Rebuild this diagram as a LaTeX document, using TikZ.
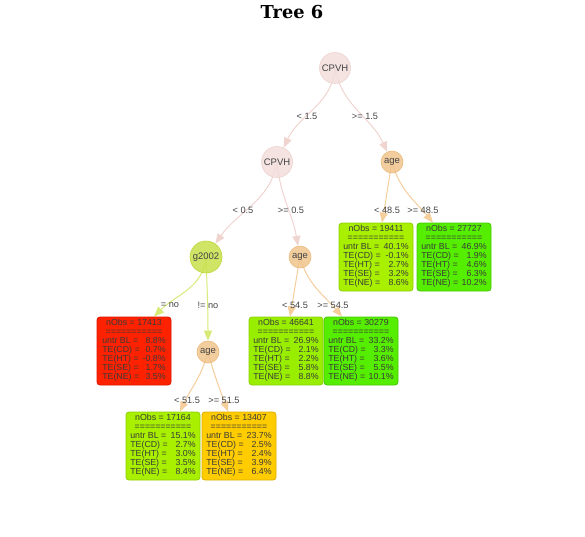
\documentclass[tikz,border=0pt]{standalone}
\usepackage{fontspec}
\setmainfont{Liberation Sans}
\newfontfamily\titlefont{DejaVu Serif}
\usetikzlibrary{arrows.meta,calc,backgrounds}

% palette
\definecolor{cpvhfill}{HTML}{F2DEDB}
\definecolor{cpvhline}{HTML}{EDD3CF}
\definecolor{agefill}{HTML}{F0C48C}
\definecolor{ageline}{HTML}{EBBB7E}
\definecolor{gfill}{HTML}{C8E04A}
\definecolor{gline}{HTML}{BED63E}
\definecolor{pinkedge}{HTML}{F0D4D0}
\definecolor{orangeedge}{HTML}{F5CE9C}
\definecolor{greenedge}{HTML}{D6EA78}
\definecolor{txt}{HTML}{444444}
\definecolor{leaftxt}{HTML}{3A3A3A}
\definecolor{limefill}{HTML}{A8F000}
\definecolor{limeline}{HTML}{8CD000}
\definecolor{lime2fill}{HTML}{99EE00}
\definecolor{greenfill}{HTML}{55EE00}
\definecolor{greenline}{HTML}{44C800}
\definecolor{redfill}{HTML}{FF2200}
\definecolor{redline}{HTML}{DD1500}
\definecolor{goldfill}{HTML}{FFCC00}
\definecolor{goldline}{HTML}{DDAA00}

% leaf contents: nObs, untr BL, CD, HT, SE, NE
\newcommand{\leaftext}[6]{%
  \begin{tabular}{@{}l@{\hspace{3pt}}r@{}}
  \multicolumn{2}{@{}c@{}}{nObs = #1}\\
  \multicolumn{2}{@{}c@{}}{===========}\\
  untr BL = & #2\\
  TE(CD) = & #3\\
  TE(HT) = & #4\\
  TE(SE) = & #5\\
  TE(NE) = & #6
  \end{tabular}}

\tikzset{
  circ/.style={circle, inner sep=0pt, text=txt, font=\fontsize{9.5}{11}\selectfont,
    line width=0.6pt, fill opacity=0.85, text opacity=1},
  cpvh/.style={circ, minimum size=31pt, fill=cpvhfill, draw=cpvhline},
  agenode/.style={circ, minimum size=22pt, fill=agefill, draw=ageline},
  gnode/.style={circ, minimum size=32pt, fill=gfill, draw=gline},
  leaf/.style={rounded corners=3pt, line width=0.8pt, inner sep=0pt,
    minimum width=74pt, minimum height=68pt, text=leaftxt,
    font=\fontsize{8.8}{8.9}\selectfont},
  lab/.style={font=\fontsize{9.2}{11}\selectfont, text=txt, inner sep=0pt},
  edge/.style={line width=1pt, draw=#1,
    -{Triangle[width=8pt,length=10pt,fill=#1]}},
}

\begin{document}
\begin{tikzpicture}[x=1pt,y=-1pt]
\useasboundingbox (0,0) rectangle (585,536);

\node[font=\titlefont\bfseries\fontsize{17.8}{20}\selectfont] (title) at (292,12) {Tree 6};

% split nodes
\node[cpvh] (root) at (335,68) {CPVH};
\node[cpvh] (c2) at (277,162) {CPVH};
\node[agenode] (ager) at (392,162) {age};
\node[gnode] (g) at (206,257) {g2002};
\node[agenode] (agem) at (300,257) {age};
\node[agenode] (agel) at (208,352) {age};

% terminal nodes
\node[leaf, fill=limefill, draw=limeline] (l1) at (376,257) {\leaftext{19411}{40.1\%}{-0.1\%}{2.7\%}{3.2\%}{8.6\%}};
\node[leaf, fill=greenfill, draw=greenline] (l2) at (454,257) {\leaftext{27727}{46.9\%}{1.9\%}{4.6\%}{6.3\%}{10.2\%}};
\node[leaf, fill=redfill, draw=redline] (l3) at (134,351) {\leaftext{17413}{8.8\%}{0.7\%}{-0.8\%}{1.7\%}{3.5\%}};
\node[leaf, fill=lime2fill, draw=limeline] (l4) at (286,351) {\leaftext{46641}{26.9\%}{2.1\%}{2.2\%}{5.8\%}{8.8\%}};
\node[leaf, fill=greenfill, draw=greenline] (l5) at (361,351) {\leaftext{30279}{33.2\%}{3.3\%}{3.6\%}{5.5\%}{10.1\%}};
\node[leaf, fill=limefill, draw=limeline] (l6) at (163,446) {\leaftext{17164}{15.1\%}{2.7\%}{3.0\%}{3.5\%}{8.4\%}};
\node[leaf, fill=goldfill, draw=goldline] (l7) at (239,446) {\leaftext{13407}{23.7\%}{2.5\%}{2.4\%}{3.9\%}{6.4\%}};

% connectors, drawn from the parent's centre behind the nodes
\begin{scope}[on background layer]
\draw[edge=pinkedge] (root.center) to[out=-95,in=65] (c2);
\draw[edge=pinkedge] (root.center) to[out=-80,in=115] (ager);
\draw[edge=pinkedge] (c2.center) to[out=-100,in=55] (g);
\draw[edge=pinkedge] (c2.center) to[out=-85,in=100] (agem);
\draw[edge=orangeedge] (ager.center) to[out=-100,in=80] ($(l1.north)+(6,0)$);
\draw[edge=orangeedge] (ager.center) to[out=-75,in=130] ($(l2.north)+(-21,0)$);
\draw[edge=greenedge] (g.center) to[out=-95,in=45] ($(l3.north)+(20,0)$);
\draw[edge=greenedge] (g.center) to[out=-88,in=90] (agel);
\draw[edge=orangeedge] (agem.center) to[out=-100,in=80] ($(l4.north)+(4,0)$);
\draw[edge=orangeedge] (agem.center) to[out=-75,in=130] ($(l5.north)+(-19,0)$);
\draw[edge=orangeedge] (agel.center) to[out=-105,in=65] ($(l6.north)+(17,0)$);
\draw[edge=orangeedge] (agel.center) to[out=-75,in=110] ($(l7.north)+(-11,0)$);
\end{scope}

% edge labels
\node[lab] (e1) at (307,116) {< 1.5};
\node[lab] (e2) at (365,116) {>= 1.5};
\node[lab] (e3) at (243,210) {< 0.5};
\node[lab] (e4) at (291,210) {>= 0.5};
\node[lab] (e5) at (387,210) {< 48.5};
\node[lab] (e6) at (423,210) {>= 48.5};
\node[lab] (e7) at (170,305) {= no};
\node[lab] (e8) at (208,305) {!= no};
\node[lab] (e9) at (295,305) {< 54.5};
\node[lab] (e10) at (333,305) {>= 54.5};
\node[lab] (e11) at (187,400) {< 51.5};
\node[lab] (e12) at (224,400) {>= 51.5};
\end{tikzpicture}
\end{document}
